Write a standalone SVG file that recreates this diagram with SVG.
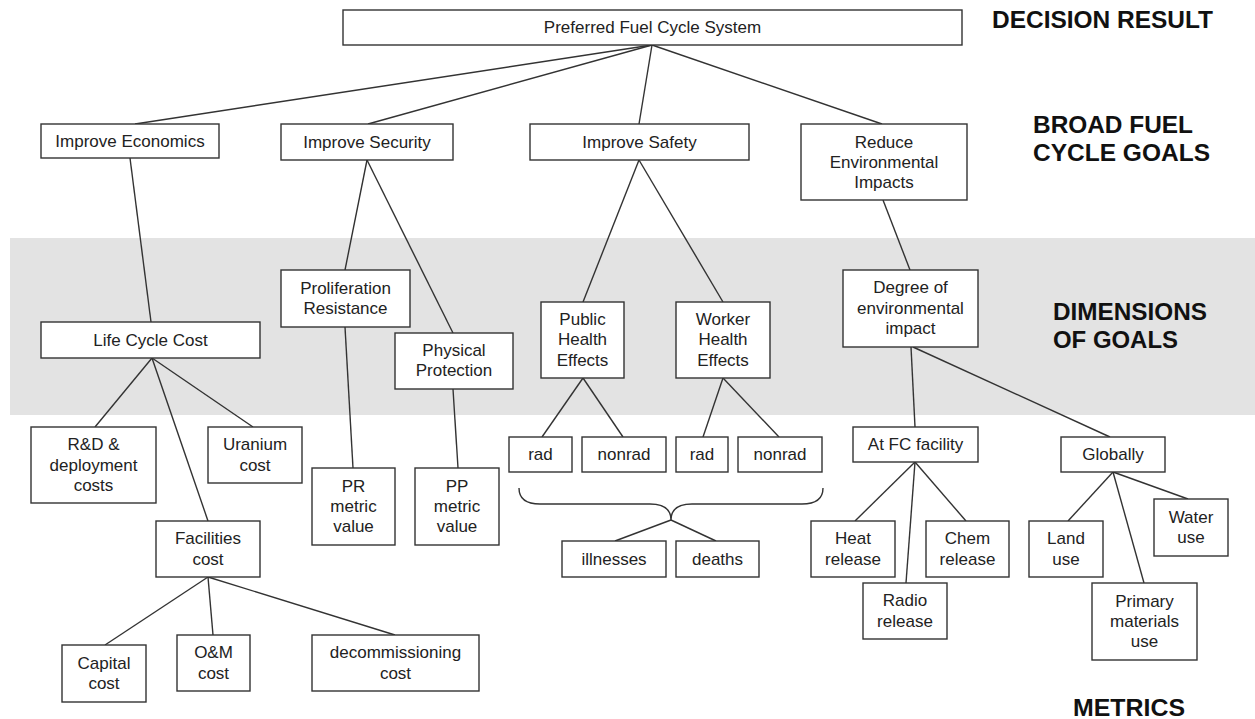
<svg xmlns="http://www.w3.org/2000/svg" width="1255" height="719" viewBox="0 0 1255 719">
  <style>
    .box { fill: #ffffff; stroke: #333333; stroke-width: 1.4; }
    .lbl { font-family: "Liberation Sans", Arial, sans-serif; font-size: 17px; fill: #222222; text-anchor: middle; }
    .tier { font-family: "Liberation Sans", Arial, sans-serif; font-size: 23px; font-weight: bold; fill: #111111; }
    .link { stroke: #333333; stroke-width: 1.4; fill: none; }
  </style>

  <!-- shaded band for the goal dimensions tier -->
  <rect x="10" y="238" width="1245" height="177" fill="#e3e3e3"/>

  <!-- tier captions -->
  <g id="tier-labels">
    <text class="tier" x="992" y="28" font-size="25" textLength="221" lengthAdjust="spacingAndGlyphs">DECISION RESULT</text>
    <text class="tier" x="1033" y="133" textLength="160" lengthAdjust="spacingAndGlyphs">BROAD FUEL</text>
    <text class="tier" x="1033" y="161" textLength="177" lengthAdjust="spacingAndGlyphs">CYCLE GOALS</text>
    <text class="tier" x="1053" y="320" textLength="154" lengthAdjust="spacingAndGlyphs">DIMENSIONS</text>
    <text class="tier" x="1053" y="348" textLength="125" lengthAdjust="spacingAndGlyphs">OF GOALS</text>
    <text class="tier" x="1073" y="716" textLength="112" lengthAdjust="spacingAndGlyphs">METRICS</text>
  </g>

  <!-- connectors -->
  <g id="connectors">
    <line class="link" x1="652" y1="45" x2="135" y2="124"/>
    <line class="link" x1="652" y1="45" x2="368" y2="124"/>
    <line class="link" x1="652" y1="45" x2="639" y2="124"/>
    <line class="link" x1="652" y1="45" x2="882" y2="124"/>
    <line class="link" x1="130" y1="158" x2="151" y2="322"/>
    <line class="link" x1="367" y1="160" x2="345" y2="270"/>
    <line class="link" x1="367" y1="160" x2="453" y2="333"/>
    <line class="link" x1="345" y1="327" x2="353" y2="468"/>
    <line class="link" x1="453" y1="389" x2="458" y2="468"/>
    <line class="link" x1="639" y1="160" x2="583" y2="302"/>
    <line class="link" x1="639" y1="160" x2="723" y2="302"/>
    <line class="link" x1="583" y1="378" x2="542" y2="437"/>
    <line class="link" x1="583" y1="378" x2="623" y2="437"/>
    <line class="link" x1="723" y1="378" x2="703" y2="437"/>
    <line class="link" x1="723" y1="378" x2="779" y2="437"/>
    <path class="link" d="M519,488 Q519,504 540,504 L650,504 Q671,504 671,520 Q671,504 692,504 L802,504 Q823,504 823,488"/>
    <line class="link" x1="671" y1="520" x2="615" y2="541"/>
    <line class="link" x1="671" y1="520" x2="716" y2="541"/>
    <line class="link" x1="883" y1="200" x2="910" y2="270"/>
    <line class="link" x1="911" y1="347" x2="915" y2="427"/>
    <line class="link" x1="913" y1="347" x2="1110" y2="437"/>
    <line class="link" x1="152" y1="358" x2="95" y2="427"/>
    <line class="link" x1="152" y1="358" x2="253" y2="427"/>
    <line class="link" x1="152" y1="358" x2="208" y2="521"/>
    <line class="link" x1="208" y1="577" x2="105" y2="645"/>
    <line class="link" x1="208" y1="577" x2="213" y2="635"/>
    <line class="link" x1="208" y1="577" x2="395" y2="635"/>
    <line class="link" x1="915" y1="462" x2="855" y2="521"/>
    <line class="link" x1="915" y1="462" x2="906" y2="583"/>
    <line class="link" x1="915" y1="462" x2="966" y2="521"/>
    <line class="link" x1="1113" y1="472" x2="1068" y2="521"/>
    <line class="link" x1="1113" y1="472" x2="1144" y2="583"/>
    <line class="link" x1="1113" y1="472" x2="1188" y2="499"/>
  </g>

  <!-- decision result -->
  <g id="preferred-system">
    <rect class="box" x="343" y="10" width="619" height="35"/>
    <text class="lbl" x="652.5" y="33">Preferred Fuel Cycle System</text>
  </g>

  <!-- broad goals -->
  <g id="improve-economics">
    <rect class="box" x="41" y="124" width="178" height="34"/>
    <text class="lbl" x="130" y="147">Improve Economics</text>
  </g>
  <g id="improve-security">
    <rect class="box" x="281" y="124" width="172" height="36"/>
    <text class="lbl" x="367" y="148">Improve Security</text>
  </g>
  <g id="improve-safety">
    <rect class="box" x="530" y="124" width="219" height="36"/>
    <text class="lbl" x="639.5" y="148">Improve Safety</text>
  </g>
  <g id="reduce-env">
    <rect class="box" x="801" y="124" width="166" height="76"/>
    <text class="lbl" x="884" y="148">Reduce</text>
    <text class="lbl" x="884" y="168">Environmental</text>
    <text class="lbl" x="884" y="188">Impacts</text>
  </g>

  <!-- dimensions -->
  <g id="life-cycle-cost">
    <rect class="box" x="41" y="322" width="219" height="36"/>
    <text class="lbl" x="150.5" y="346">Life Cycle Cost</text>
  </g>
  <g id="proliferation-resistance">
    <rect class="box" x="281" y="270" width="129" height="57"/>
    <text class="lbl" x="345.5" y="294">Proliferation</text>
    <text class="lbl" x="345.5" y="314">Resistance</text>
  </g>
  <g id="physical-protection">
    <rect class="box" x="395" y="333" width="118" height="56"/>
    <text class="lbl" x="454" y="356">Physical</text>
    <text class="lbl" x="454" y="376">Protection</text>
  </g>
  <g id="public-health">
    <rect class="box" x="541" y="302" width="83" height="76"/>
    <text class="lbl" x="582.5" y="325">Public</text>
    <text class="lbl" x="582.5" y="345">Health</text>
    <text class="lbl" x="582.5" y="366">Effects</text>
  </g>
  <g id="worker-health">
    <rect class="box" x="676" y="302" width="94" height="76"/>
    <text class="lbl" x="723" y="325">Worker</text>
    <text class="lbl" x="723" y="345">Health</text>
    <text class="lbl" x="723" y="366">Effects</text>
  </g>
  <g id="degree-env-impact">
    <rect class="box" x="843" y="270" width="135" height="77"/>
    <text class="lbl" x="910.5" y="293">Degree of</text>
    <text class="lbl" x="910.5" y="314">environmental</text>
    <text class="lbl" x="910.5" y="334">impact</text>
  </g>

  <!-- metrics: economics -->
  <g id="rd-deployment">
    <rect class="box" x="31" y="427" width="125" height="76"/>
    <text class="lbl" x="93.5" y="450">R&amp;D &amp;</text>
    <text class="lbl" x="93.5" y="471">deployment</text>
    <text class="lbl" x="93.5" y="491">costs</text>
  </g>
  <g id="uranium-cost">
    <rect class="box" x="208" y="427" width="94" height="56"/>
    <text class="lbl" x="255" y="450">Uranium</text>
    <text class="lbl" x="255" y="471">cost</text>
  </g>
  <g id="facilities-cost">
    <rect class="box" x="156" y="521" width="104" height="56"/>
    <text class="lbl" x="208" y="544">Facilities</text>
    <text class="lbl" x="208" y="565">cost</text>
  </g>
  <g id="capital-cost">
    <rect class="box" x="62" y="645" width="84" height="57"/>
    <text class="lbl" x="104" y="669">Capital</text>
    <text class="lbl" x="104" y="689">cost</text>
  </g>
  <g id="om-cost">
    <rect class="box" x="177" y="635" width="73" height="56"/>
    <text class="lbl" x="213.5" y="658">O&amp;M</text>
    <text class="lbl" x="213.5" y="679">cost</text>
  </g>
  <g id="decommissioning-cost">
    <rect class="box" x="312" y="635" width="167" height="56"/>
    <text class="lbl" x="395.5" y="658">decommissioning</text>
    <text class="lbl" x="395.5" y="679">cost</text>
  </g>

  <!-- metrics: security -->
  <g id="pr-metric">
    <rect class="box" x="312" y="468" width="83" height="77"/>
    <text class="lbl" x="353.5" y="492">PR</text>
    <text class="lbl" x="353.5" y="512">metric</text>
    <text class="lbl" x="353.5" y="532">value</text>
  </g>
  <g id="pp-metric">
    <rect class="box" x="415" y="468" width="84" height="77"/>
    <text class="lbl" x="457" y="492">PP</text>
    <text class="lbl" x="457" y="512">metric</text>
    <text class="lbl" x="457" y="532">value</text>
  </g>

  <!-- metrics: safety -->
  <g id="public-rad">
    <rect class="box" x="509" y="437" width="63" height="35"/>
    <text class="lbl" x="540.5" y="460">rad</text>
  </g>
  <g id="public-nonrad">
    <rect class="box" x="582" y="437" width="84" height="35"/>
    <text class="lbl" x="624" y="460">nonrad</text>
  </g>
  <g id="worker-rad">
    <rect class="box" x="676" y="437" width="52" height="35"/>
    <text class="lbl" x="702" y="460">rad</text>
  </g>
  <g id="worker-nonrad">
    <rect class="box" x="738" y="437" width="84" height="35"/>
    <text class="lbl" x="780" y="460">nonrad</text>
  </g>
  <g id="illnesses">
    <rect class="box" x="562" y="541" width="104" height="36"/>
    <text class="lbl" x="614" y="565">illnesses</text>
  </g>
  <g id="deaths">
    <rect class="box" x="676" y="541" width="83" height="36"/>
    <text class="lbl" x="717.5" y="565">deaths</text>
  </g>

  <!-- metrics: environment -->
  <g id="at-fc-facility">
    <rect class="box" x="853" y="427" width="125" height="35"/>
    <text class="lbl" x="915.5" y="450">At FC facility</text>
  </g>
  <g id="globally">
    <rect class="box" x="1061" y="437" width="104" height="35"/>
    <text class="lbl" x="1113" y="460">Globally</text>
  </g>
  <g id="heat-release">
    <rect class="box" x="811" y="521" width="84" height="56"/>
    <text class="lbl" x="853" y="544">Heat</text>
    <text class="lbl" x="853" y="565">release</text>
  </g>
  <g id="radio-release">
    <rect class="box" x="863" y="583" width="84" height="56"/>
    <text class="lbl" x="905" y="606">Radio</text>
    <text class="lbl" x="905" y="627">release</text>
  </g>
  <g id="chem-release">
    <rect class="box" x="926" y="521" width="83" height="56"/>
    <text class="lbl" x="967.5" y="544">Chem</text>
    <text class="lbl" x="967.5" y="565">release</text>
  </g>
  <g id="land-use">
    <rect class="box" x="1029" y="521" width="74" height="56"/>
    <text class="lbl" x="1066" y="544">Land</text>
    <text class="lbl" x="1066" y="565">use</text>
  </g>
  <g id="water-use">
    <rect class="box" x="1154" y="499" width="74" height="57"/>
    <text class="lbl" x="1191" y="523">Water</text>
    <text class="lbl" x="1191" y="543">use</text>
  </g>
  <g id="primary-materials">
    <rect class="box" x="1092" y="583" width="105" height="77"/>
    <text class="lbl" x="1144.5" y="607">Primary</text>
    <text class="lbl" x="1144.5" y="627">materials</text>
    <text class="lbl" x="1144.5" y="647">use</text>
  </g>
</svg>
